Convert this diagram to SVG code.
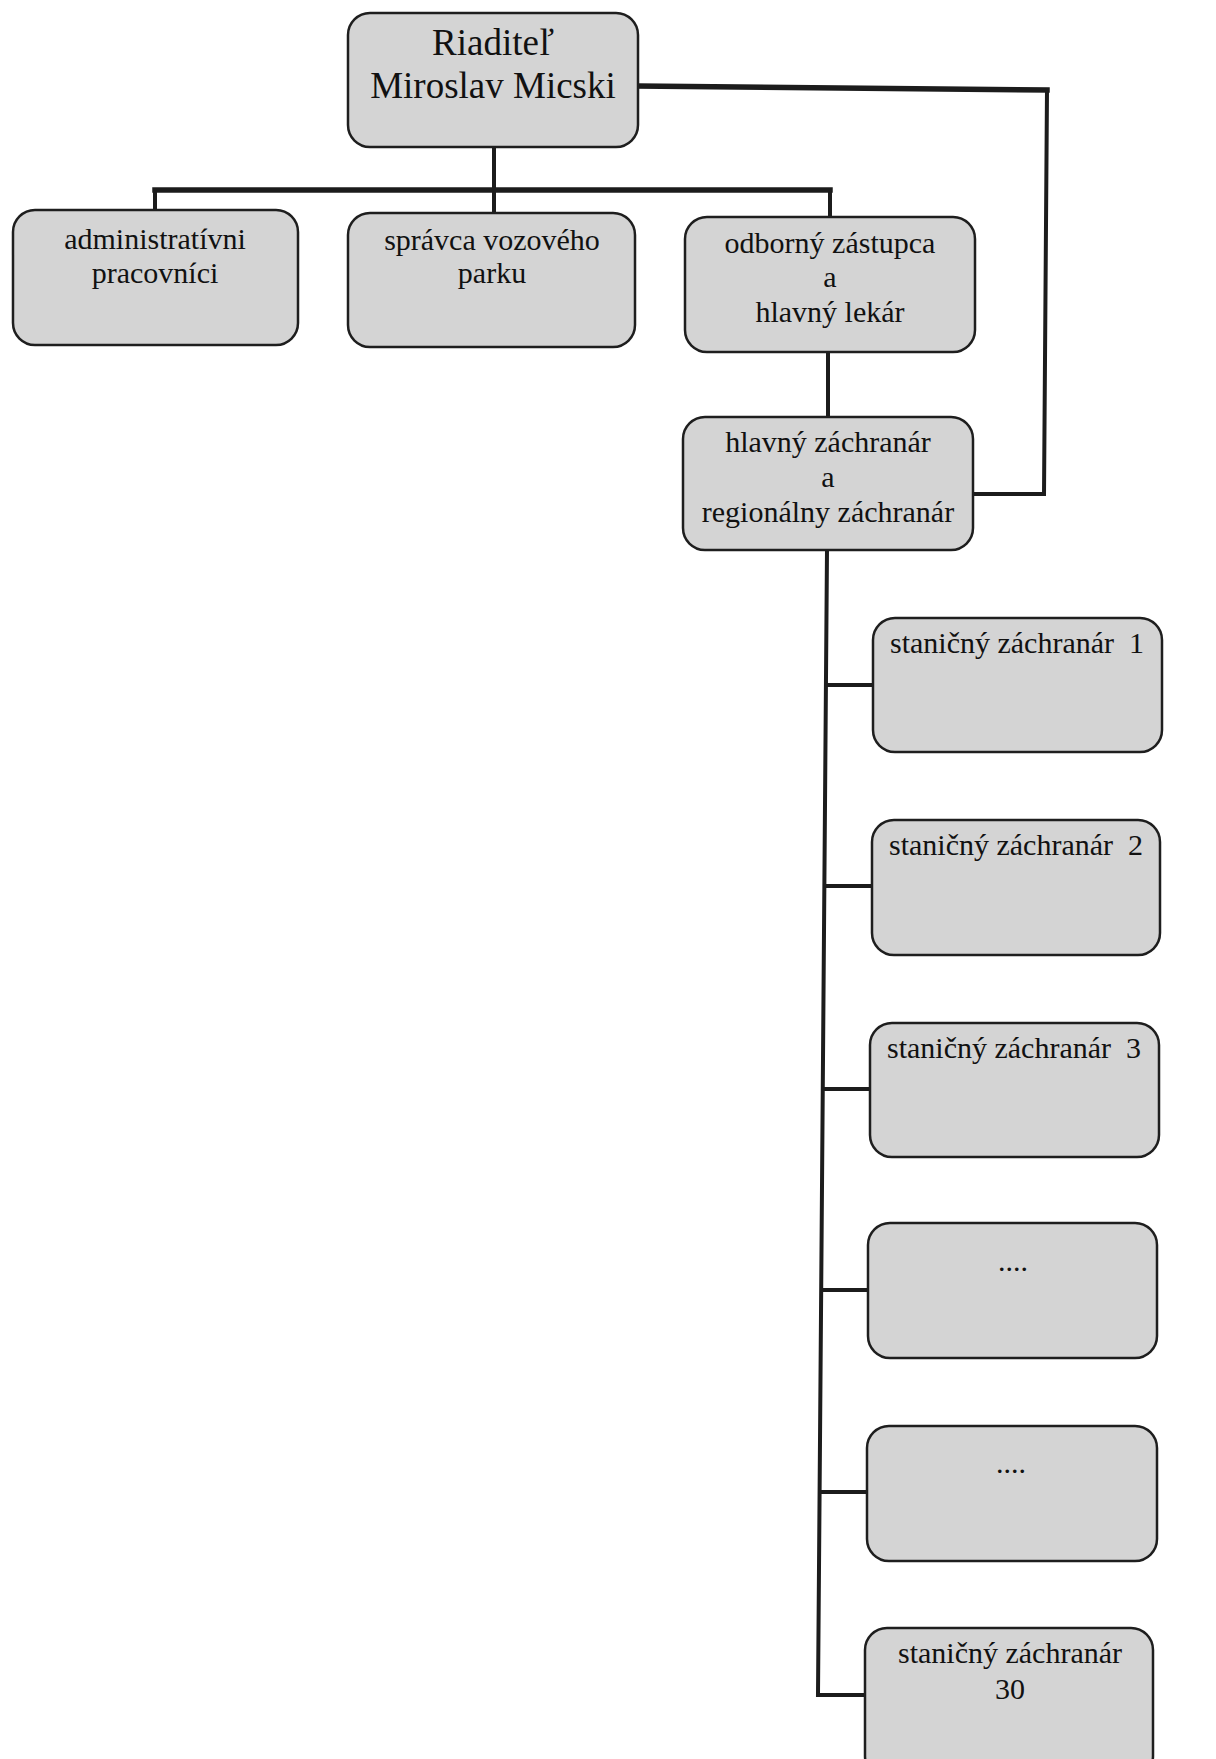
<svg xmlns="http://www.w3.org/2000/svg" width="1216" height="1759" viewBox="0 0 1216 1759">
<style>
.box{fill:#d4d4d4;stroke:#1e1e1e;stroke-width:2.5}
.t{font-family:"Liberation Serif","Times New Roman",serif;font-size:30px;fill:#111;text-anchor:middle}
.tb{font-family:"Liberation Serif","Times New Roman",serif;font-size:37px;fill:#111;text-anchor:middle}
.c{fill:none;stroke:#1c1c1c;stroke-width:4;stroke-linecap:square;stroke-linejoin:miter}
.cb{fill:none;stroke:#1c1c1c;stroke-width:5.5;stroke-linecap:square}
</style>
<rect width="1216" height="1759" fill="#ffffff"/>
<g id="connectors">
<path class="c" d="M494,147 L494,190"/>
<path class="c" d="M155,210 L155,190"/>
<path class="c" d="M830,190 L830,217"/>
<path class="cb" d="M155,190 L830,190"/>
<path class="c" d="M494,190 L494,213"/>
<path class="cb" d="M638,86 L1047,90"/>
<path class="c" d="M1047,90 L1044,494 L973,494"/>
<path class="c" d="M828,352 L828,417"/>
<path class="c" d="M827,550 L818,1695 L865,1695"/>
<path class="c" d="M826,685 L873,685"/>
<path class="c" d="M825,886 L872,886"/>
<path class="c" d="M823,1089 L870,1089"/>
<path class="c" d="M822,1290 L868,1290"/>
<path class="c" d="M820,1492 L867,1492"/>
</g>
<g id="riaditel">
<rect class="box" x="348" y="13" width="290" height="134" rx="22"/>
<text class="tb" x="493" y="55">Riaditeľ</text>
<text class="tb" x="493" y="98">Miroslav Micski</text>
</g>
<g id="administrativni">
<rect class="box" x="13" y="210" width="285" height="135" rx="22"/>
<text class="t" x="155" y="249">administratívni</text>
<text class="t" x="155" y="283">pracovníci</text>
</g>
<g id="spravca">
<rect class="box" x="348" y="213" width="287" height="134" rx="22"/>
<text class="t" x="492" y="250">správca vozového</text>
<text class="t" x="492" y="283">parku</text>
</g>
<g id="odborny">
<rect class="box" x="685" y="217" width="290" height="135" rx="22"/>
<text class="t" x="830" y="253">odborný zástupca</text>
<text class="t" x="830" y="287">a</text>
<text class="t" x="830" y="322">hlavný lekár</text>
</g>
<g id="hlavny">
<rect class="box" x="683" y="417" width="290" height="133" rx="22"/>
<text class="t" x="828" y="452">hlavný záchranár</text>
<text class="t" x="828" y="487">a</text>
<text class="t" x="828" y="522">regionálny záchranár</text>
</g>
<g id="stanicny1">
<rect class="box" x="873" y="618" width="289" height="134" rx="22"/>
<text class="t" x="1017" y="653" xml:space="preserve">staničný záchranár  1</text>
</g>
<g id="stanicny2">
<rect class="box" x="872" y="820" width="288" height="135" rx="22"/>
<text class="t" x="1016" y="855" xml:space="preserve">staničný záchranár  2</text>
</g>
<g id="stanicny3">
<rect class="box" x="870" y="1023" width="289" height="134" rx="22"/>
<text class="t" x="1014" y="1058" xml:space="preserve">staničný záchranár  3</text>
</g>
<g id="dots1">
<rect class="box" x="868" y="1223" width="289" height="135" rx="22"/>
<text class="t" x="1013" y="1271">....</text>
</g>
<g id="dots2">
<rect class="box" x="867" y="1426" width="290" height="135" rx="22"/>
<text class="t" x="1011" y="1473">....</text>
</g>
<g id="stanicny30">
<rect class="box" x="865" y="1628" width="288" height="150" rx="22"/>
<text class="t" x="1010" y="1663">staničný záchranár</text>
<text class="t" x="1010" y="1699">30</text>
</g>
</svg>
